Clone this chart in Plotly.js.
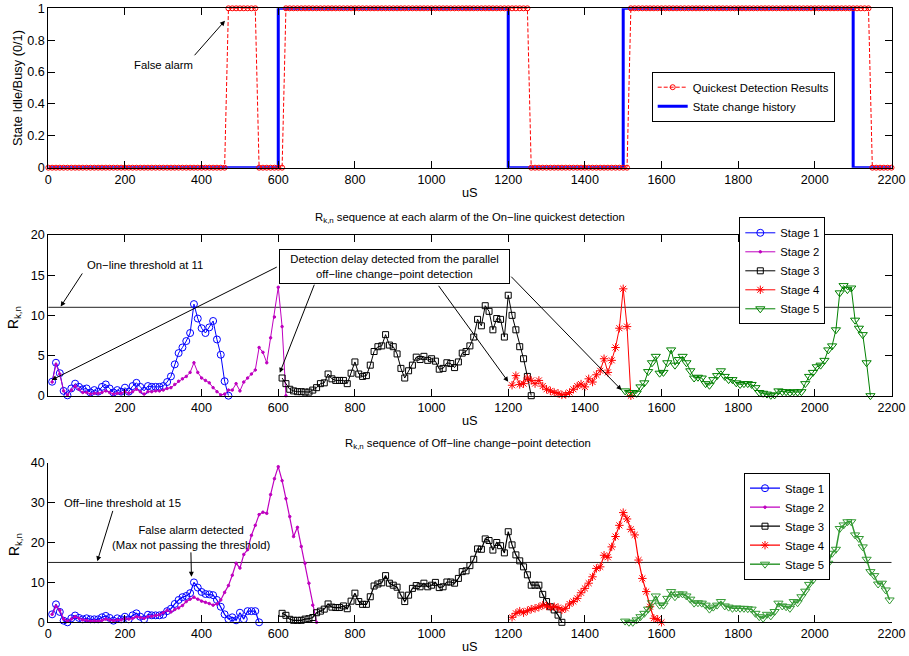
<!DOCTYPE html>
<html>
<head>
<meta charset="utf-8">
<script src="https://cdn.plot.ly/plotly-3.0.1.min.js"></script>
<style>
  html, body { margin: 0; padding: 0; background: #fff; }
  #chart { width: 909px; height: 656px; }
</style>
</head>
<body>
<div id="chart"></div>
<script>
// ---------------------------------------------------------------
// Data (time in microseconds, detector sampled every 10 us)
// ---------------------------------------------------------------
const SAMPLE_US = 10;

// Panel 1: true channel state and the on-line quickest detection output
const stateTimes  = [0, 600, 1200, 1500, 2100, 2200];
const stateLevels = [0, 1, 0, 1, 0, 0];

const detectStart = 0;
const detectState = [
  0,0,0,0,0,0,0,0,0,0, 0,0,0,0,0,0,0,0,0,0, 0,0,0,0,0,0,0,0,0,0,
  0,0,0,0,0,0,0,0,0,0, 0,0,0,0,0,0,0,
  1,1,1,1,1,1,1,1,
  0,0,0,0,0,0,0,
  1,1,1,1,1,1,1,1,1,1, 1,1,1,1,1,1,1,1,1,1, 1,1,1,1,1,1,1,1,1,1,
  1,1,1,1,1,1,1,1,1,1, 1,1,1,1,1,1,1,1,1,1, 1,1,1,1,1,1,1,1,1,1,
  1,1,1,1,
  0,0,0,0,0,0,0,0,0,0, 0,0,0,0,0,0,0,0,0,0, 0,0,0,0,0,0,
  1,1,1,1,1,1,1,1,1,1, 1,1,1,1,1,1,1,1,1,1, 1,1,1,1,1,1,1,1,1,1,
  1,1,1,1,1,1,1,1,1,1, 1,1,1,1,1,1,1,1,1,1, 1,1,1,1,1,1,1,1,1,1,
  1,1,1,
  0,0,0,0,0,0
];

// Panel 2: R_{k,n} at each alarm of the on-line quickest detection
const stageNames = ['Stage 1', 'Stage 2', 'Stage 3', 'Stage 4', 'Stage 5'];
const onlineStart = [10, 10, 610, 1210, 1505];
const onlineStage1 = [
  1.74, 4.1, 2.8, 0.6, 0.05, 0.9, 1.5, 1.1, 0.8, 0.9,
  0.4, 0.7, 0.5, 1.1, 1.4, 0.9, 0.4, 0.7, 0.5, 1.0,
  0.5, 1.2, 1.6, 1.1, 0.6, 1.2, 1.1, 1.1, 1.1, 1.2,
  1.7, 2.4, 3.9, 5.3, 6.0, 6.8, 7.8, 11.4, 9.6, 8.4,
  7.8, 8.5, 9.3, 7.0, 5.1, 1.8, 0
];
const onlineStage2 = [
  1.7, 3.9, 2.7, 0.6, 0.1, 0.7, 1.2, 0.8, 0.4, 0.4,
  0.2, 0.3, 0.3, 0.4, 0.6, 0.4, 0.2, 0.3, 0.3, 0.5,
  0.3, 0.5, 0.8, 0.5, 0.2, 0.5, 0.5, 0.6, 0.6, 0.7,
  0.9, 1.0, 1.4, 1.8, 2.1, 2.4, 2.9, 4.1, 2.9, 2.2,
  1.9, 1.6, 1.0, 0.5, 0.1, 0.2, 0.7, 0.7, 1.5, 0.6,
  1.7, 2.2, 2.7, 3.2, 6.0, 5.4, 4.1, 7.2, 9.8, 13.5,
  8.6, 0
];
const onlineStage3 = [
  2.2, 1.5, 0.8, 0.6, 0.5, 0.5, 0.45, 0.45, 0.7, 1.0,
  1.5, 1.6, 2.7, 2.1, 1.9, 1.9, 1.9, 1.5, 2.8, 4.2,
  2.7, 2.4, 2.5, 3.8, 5.5, 6.1, 6.2, 7.6, 6.3, 6.1,
  5.2, 3.4, 2.2, 3.1, 3.8, 4.8, 4.5, 4.9, 4.4, 4.6,
  4.3, 3.3, 3.4, 4.1, 4.0, 3.5, 4.2, 5.3, 5.5, 6.2,
  7.3, 9.5, 8.7, 11.2, 10.5, 8.2, 9.6, 9.5, 7.3, 12.5,
  10.0, 8.2, 6.1, 4.6, 2.4, 0
];
const onlineStage4 = [
  1.3, 2.5, 1.4, 1.5, 2.2, 1.9, 1.5, 1.9, 1.2, 0.8,
  0.6, 0.4, 0.3, 0.1, 0.15, 0.4, 0.8, 1.2, 1.45, 1.1,
  2.1, 1.7, 2.6, 3.1, 4.6, 2.9, 4.4, 6.0, 8.4, 13.3,
  8.6, 0
];
const onlineStage5 = [
  0.6, 0.4, 0.4, 0.3, 1.1, 1.6, 3.0, 4.1, 4.9, 2.8,
  2.9, 4.1, 5.7, 3.8, 4.5, 4.9, 4.1, 3.1, 2.2, 2.3,
  2.2, 1.5, 1.3, 2.0, 2.5, 3.1, 2.4, 2.0, 2.0, 1.6,
  1.4, 1.5, 1.5, 1.4, 1.0, 0.4, 0.3, 0.2, 0.05, 0.1,
  0.6, 0.5, 0.5, 0.4, 0.5, 0.45, 0.5, 1.5, 2.4, 2.9,
  3.6, 3.8, 4.4, 5.7, 6.2, 8.2, 12.8, 13.7, 13.2, 13.4,
  9.4, 8.4, 7.6, 4.1, 0
];
const onlineThreshold = 11;

// Panel 3: R_{k,n} of the off-line change-point detection
const offlineStart = [10, 10, 610, 1210, 1505];
const offlineStage1 = [
  2.0, 4.5, 2.6, 0.4, 0, 1.0, 1.7, 1.1, 0.75, 1.0,
  0.75, 0.75, 0.75, 1.25, 1.6, 1.1, 0.4, 1.0, 0.75, 1.4,
  0.75, 1.75, 2.25, 1.4, 0.75, 1.9, 1.75, 1.75, 1.75, 1.9,
  2.8, 3.4, 4.6, 5.6, 6.3, 6.6, 7.3, 10.0, 8.7, 7.6,
  7.1, 7.0, 6.8, 5.6, 3.9, 2.0, 0.8, 1.25, 0.5, 2.4,
  0.8, 2.8, 2.8, 2.8, 0
];
const offlineStage2 = [
  2.0, 4.0, 3.0, 0.8, 0.3, 0.8, 1.4, 1.0, 0.6, 0.5,
  0.3, 0.4, 0.3, 0.5, 0.8, 0.6, 0.4, 0.6, 0.6, 1.0,
  0.8, 1.0, 1.4, 1.2, 1.0, 1.4, 1.5, 1.7, 1.9, 2.4,
  3.0, 2.6, 3.2, 3.6, 4.2, 5.2, 5.8, 6.3, 5.8, 5.3,
  5.0, 4.7, 4.3, 4.6, 5.6, 7.5, 9.2, 11.8, 14.8, 13.6,
  17.0, 18.2, 21.8, 24.3, 27.0, 27.6, 27.3, 32.0, 36.0, 39.0,
  35.5, 31.0, 26.5, 21.5, 23.8, 19.0, 14.8, 9.8, 4.3, 0
];
const offlineStage3 = [
  2.25, 1.75, 0.75, 0.5, 0.5, 0.5, 0.8, 0.9, 1.2, 2.4,
  2.8, 3.3, 4.6, 3.8, 3.7, 3.7, 4.1, 3.4, 5.3, 7.3,
  5.2, 4.5, 4.5, 6.4, 9.1, 9.6, 9.9, 11.7, 9.8, 9.3,
  8.8, 6.8, 5.2, 6.8, 8.5, 9.2, 8.9, 9.8, 8.9, 9.3,
  10.0, 8.7, 8.9, 10.1, 10.1, 9.8, 11.0, 12.7, 12.9, 14.2,
  15.8, 18.4, 18.3, 20.9, 20.5, 18.1, 20.0, 19.2, 17.4, 22.7,
  19.4, 16.9, 15.4, 13.9, 11.9, 9.3, 9.3, 9.3, 7.0, 5.2,
  3.9, 3.1, 1.8, 0
];
const offlineStage4 = [
  1.25, 2.25, 2.8, 2.4, 2.9, 3.3, 3.5, 3.8, 4.3, 4.1,
  3.8, 3.9, 3.7, 3.1, 3.5, 4.6, 5.2, 6.0, 7.4, 8.5,
  9.8, 11.4, 13.5, 13.9, 16.8, 16.3, 18.9, 21.5, 24.3, 27.5,
  25.9, 23.3, 21.9, 15.6, 11.0, 7.7, 3.9, 1.0, 0.75, 0
];
const offlineStage5 = [
  0.3, 0, 0, 0.6, 1.4, 2.25, 3.3, 4.9, 6.6, 4.3,
  4.3, 6.0, 7.7, 6.4, 7.1, 7.1, 6.6, 5.8, 4.8, 4.9,
  4.8, 4.3, 3.3, 3.8, 4.3, 5.2, 4.1, 3.8, 3.5, 3.6,
  3.5, 3.5, 3.4, 3.3, 2.25, 1.4, 1.0, 2.0, 1.6, 2.7,
  4.8, 4.1, 3.9, 3.5, 5.2, 4.9, 6.4, 7.8, 9.5, 10.6,
  12.1, 12.9, 13.8, 14.8, 17.3, 18.3, 23.5, 24.4, 25.2, 25.2,
  21.9, 21.0, 18.9, 15.8, 12.7, 11.7, 9.6, 9.8, 8.1, 5.6
];
const offlineThreshold = 15;

const xTicksFull = [0, 200, 400, 600, 800, 1000, 1200, 1400, 1600, 1800, 2000, 2200];
const xTicksNoZero = [200, 400, 600, 800, 1000, 1200, 1400, 1600, 1800, 2000, 2200];

// ---------------------------------------------------------------
// Helpers
// ---------------------------------------------------------------
function sampleTimes(start, n) {
  const t = [];
  for (let i = 0; i < n; i++) t.push(start + i * SAMPLE_US);
  return t;
}

const FONT = 'Liberation Sans, Arial, Helvetica, sans-serif';

// Per-stage styles (MATLAB-like line specs)
const stageStyles = [
  { color: '#0000ff', marker: { symbol: 'circle-open', size: 7 } },
  { color: '#bf00bf', marker: { symbol: 'circle', size: 2.5 } },
  { color: '#000000', marker: { symbol: 'square-open', size: 6 } },
  { color: '#ff0000', marker: { symbol: 'asterisk-open', size: 7 } },
  { color: '#008000', marker: { symbol: 'triangle-down-open', size: 8 } }
];

function stageTraces(series, starts, xa, ya, legendId, lineWidth, opac) {
  return series.map((vals, i) => {
    const st = stageStyles[i];
    return {
      x: sampleTimes(starts[i], vals.length),
      y: vals,
      xaxis: xa, yaxis: ya,
      type: 'scatter', mode: 'lines+markers',
      name: stageNames[i],
      legend: legendId,
      opacity: opac[i],
      cliponaxis: false,
      line: { color: st.color, width: lineWidth[i] },
      marker: {
        symbol: st.marker.symbol, size: st.marker.size, color: st.color,
        line: { color: st.color, width: 1 }
      }
    };
  });
}

// ---------------------------------------------------------------
// Traces
// ---------------------------------------------------------------
const traces = [];

traces.push({
  x: stateTimes, y: stateLevels, xaxis: 'x', yaxis: 'y',
  type: 'scatter', mode: 'lines', name: 'State change history',
  legend: 'legend', cliponaxis: false,
  line: { shape: 'hv', color: '#0000ff', width: 3 }
});
traces.push({
  x: sampleTimes(detectStart, detectState.length), y: detectState,
  xaxis: 'x', yaxis: 'y',
  type: 'scatter', mode: 'lines+markers', name: 'Quickest Detection Results',
  legend: 'legend', cliponaxis: false,
  line: { color: '#ff0000', width: 1, dash: '4px,2px' },
  marker: { symbol: 'circle-open', size: 5, color: '#ff0000', line: { color: '#ff0000', width: 1 } }
});

traces.push(...stageTraces(
  [onlineStage1, onlineStage2, onlineStage3, onlineStage4, onlineStage5],
  onlineStart, 'x2', 'y2', 'legend2', [1, 1, 1, 1, 1], [1, 1, 1, 1, 1]));

traces.push(...stageTraces(
  [offlineStage1, offlineStage2, offlineStage3, offlineStage4, offlineStage5],
  offlineStart, 'x3', 'y3', 'legend3', [1.2, 1.2, 1.2, 1.2, 1.5], [1, 1, 1, 1, 0.8]));

// ---------------------------------------------------------------
// Layout
// ---------------------------------------------------------------
const W = 909, H = 656;
const xDom = [48.3 / W, 891.5 / W];
const yDomTop = [1 - 167.7 / H, 1 - 8.3 / H];
const yDomMid = [1 - 395.7 / H, 1 - 235 / H];
const yDomBot = [1 - 622.3 / H, 1 - 462.7 / H];

const tickFont = { family: FONT, size: 12.6, color: '#000' };
const titleFont = { family: FONT, size: 12.8, color: '#000' };
const rknFont = { family: FONT, size: 13.8, color: '#000' };

function axisBase(extra) {
  return Object.assign({
    showline: true, linecolor: '#000', linewidth: 1,
    ticks: 'inside', ticklen: 7, tickwidth: 1, tickcolor: '#000',
    showgrid: false, zeroline: false, fixedrange: true,
    tickfont: tickFont
  }, extra);
}

const annFont = { family: FONT, size: 11.3, color: '#000' };

function arrow(xref, yref, hx, hy, tx, ty) {
  return {
    xref: xref, yref: yref, axref: xref, ayref: yref,
    x: hx, y: hy, ax: tx, ay: ty, text: '',
    showarrow: true, arrowhead: 2, arrowsize: 1, arrowwidth: 1,
    arrowcolor: '#000', standoff: 0, startstandoff: 0
  };
}
function label(xref, yref, x, y, text, extra) {
  return Object.assign({
    xref: xref, yref: yref, x: x, y: y, text: text,
    showarrow: false, font: annFont, xanchor: 'center', yanchor: 'middle'
  }, extra || {});
}
// axis titles placed in figure pixels
function pxLabel(px, py, text, font, angle) {
  return label('paper', 'paper', px / W, 1 - py / H, text,
               { font: font, textangle: angle || 0 });
}

const annotations = [
  // axis titles
  pxLabel(470, 192.7, 'uS', titleFont),
  pxLabel(17, 88, 'State Idle/Busy (0/1)', titleFont, -90),
  pxLabel(470, 420, 'uS', titleFont),
  pxLabel(15, 317, 'R<sub>k,n</sub>', rknFont, -90),
  pxLabel(470, 646.7, 'uS', titleFont),
  pxLabel(15, 544, 'R<sub>k,n</sub>', rknFont, -90),

  // panel 1
  label('x', 'y', 301.8, 0.644, 'False alarm'),
  arrow('x', 'y', 460.9, 0.922, 378.2, 0.696),

  // panel 2
  pxLabel(470, 218, 'R<sub>k,n</sub> sequence at each alarm of the On\u2212line quickest detection', annFont),
  label('x2', 'y2', 252, 16.27, 'On\u2212line threshold at 11'),
  arrow('x2', 'y2', 32.3, onlineThreshold + 0.1, 91.3, 15.4),
  label('x2', 'y2', 903.5, 16.04,
        'Detection delay detected from the parallel<br>off\u2212line change\u2212point detection',
        { bordercolor: '#000', borderwidth: 1, borderpad: 0, bgcolor: '#fff',
          width: 229, height: 33, align: 'center' }),
  arrow('x2', 'y2', 8.9, 1.95, 600, 16.1),
  arrow('x2', 'y2', 604, 2.86, 695.6, 14.0),
  arrow('x2', 'y2', 1200, 1.74, 1015.6, 13.86),
  arrow('x2', 'y2', 1495.6, 0.71, 1204, 15.0),

  // panel 3
  pxLabel(468, 444, 'R<sub>k,n</sub> sequence of Off\u2212line change\u2212point detection', annFont),
  label('x3', 'y3', 193.5, 29.9, 'Off\u2212line threshold at 15'),
  arrow('x3', 'y3', 127.8, offlineThreshold + 0.3, 169.5, 28.3),
  label('x3', 'y3', 371.4, 21.25, 'False alarm detected<br>(Max not passing the threshold)'),
  arrow('x3', 'y3', 373.5, 11.4, 372, 17.9)
];

const shapes = [
  { type: 'line', xref: 'x2 domain', yref: 'y2', x0: 0, x1: 1,
    y0: onlineThreshold, y1: onlineThreshold, layer: 'below',
    line: { color: '#222', width: 1 } },
  { type: 'line', xref: 'x3 domain', yref: 'y3', x0: 0, x1: 1,
    y0: offlineThreshold, y1: offlineThreshold, layer: 'below',
    line: { color: '#222', width: 1 } }
];

const legendBase = {
  xanchor: 'left', yanchor: 'top', bgcolor: '#fff',
  bordercolor: '#000', borderwidth: 1,
  font: { family: FONT, size: 11.3, color: '#000' },
  itemwidth: 30, tracegroupgap: 0
};

const layout = {
  width: W, height: H,
  margin: { l: 0, r: 0, t: 0, b: 0, pad: 0 },
  paper_bgcolor: '#fff', plot_bgcolor: '#fff',
  font: { family: FONT, color: '#000' },
  showlegend: true,
  xaxis: axisBase({ domain: xDom, anchor: 'y', range: [0, 2200], tickvals: xTicksFull,
                    mirror: 'ticks' }),
  yaxis: axisBase({ domain: yDomTop, anchor: 'x', range: [0, 1],
                    tickvals: [0, 0.2, 0.4, 0.6, 0.8, 1], mirror: 'ticks' }),
  xaxis2: axisBase({ domain: xDom, anchor: 'y2', range: [0, 2200], tickvals: xTicksNoZero,
                     mirror: 'ticks' }),
  yaxis2: axisBase({ domain: yDomMid, anchor: 'x2', range: [0, 20],
                     tickvals: [0, 5, 10, 15, 20], mirror: 'ticks' }),
  xaxis3: axisBase({ domain: xDom, anchor: 'y3', range: [0, 2200], tickvals: xTicksFull }),
  yaxis3: axisBase({ domain: yDomBot, anchor: 'x3', range: [0, 40],
                     tickvals: [0, 10, 20, 30, 40] }),
  legend: Object.assign({}, legendBase, { x: 651.7 / W, y: 1 - 71.7 / H, traceorder: 'reversed' }),
  legend2: Object.assign({}, legendBase, { x: 739.3 / W, y: 1 - 217.3 / H }),
  legend3: Object.assign({}, legendBase, { x: 744 / W, y: 1 - 472.7 / H }),
  annotations: annotations,
  shapes: shapes
};

Plotly.newPlot('chart', traces, layout, { displayModeBar: false, staticPlot: true });
</script>
</body>
</html>
